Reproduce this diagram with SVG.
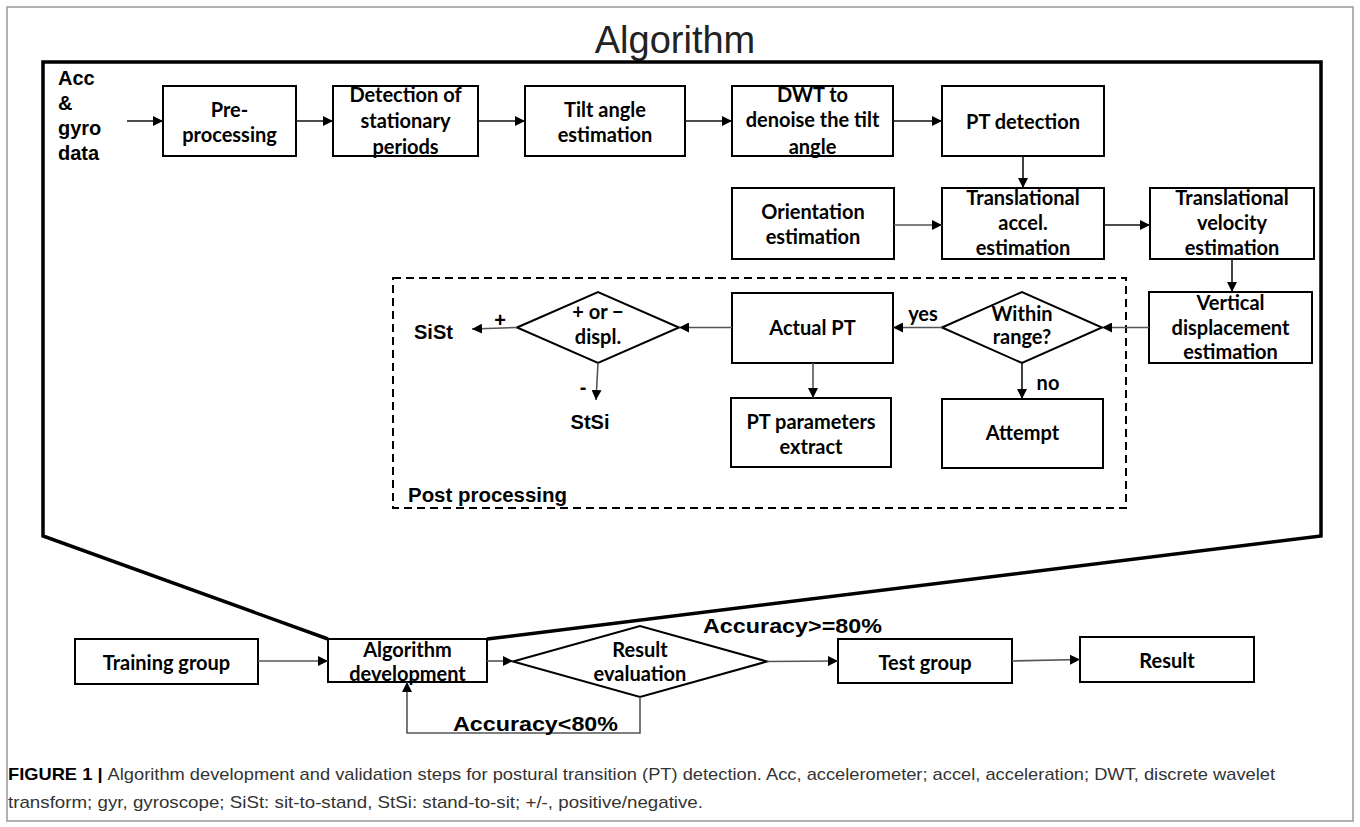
<svg xmlns="http://www.w3.org/2000/svg" width="1360" height="827" viewBox="0 0 1360 827">
<defs>
<marker id="ah" markerUnits="userSpaceOnUse" markerWidth="11" markerHeight="10" refX="10" refY="5" orient="auto">
<path d="M0,0 L10,5 L0,10 z" fill="#000"/>
</marker>
</defs>
<style>
.box{fill:#fff;stroke:#000;stroke-width:2}
.dia{fill:#fff;stroke:#000;stroke-width:2}
.frame{fill:none;stroke:#000;stroke-width:3.5;stroke-linejoin:miter}
.dash{fill:none;stroke:#000;stroke-width:2;stroke-dasharray:8 5}
.c{fill:none;stroke:#555;stroke-width:1.6;marker-end:url(#ah)}
.k{fill:none;stroke:#111;stroke-width:1.6;marker-end:url(#ah)}
.t{font-family:Lato,"Liberation Sans",sans-serif;font-weight:700;font-size:20px;fill:#000;text-anchor:middle}
.n{font-family:"Liberation Sans",Arial,sans-serif;font-weight:700;font-size:20px;fill:#000}
.cap{font-family:"Liberation Sans",Arial,sans-serif;font-size:17px;fill:#333}
</style>
<rect x="7" y="7" width="1346" height="814" fill="#fff" stroke="#999" stroke-width="1.5"/>
<text x="675" y="53" font-family="'Liberation Sans',Arial,sans-serif" font-size="38" fill="#222" text-anchor="middle">Algorithm</text>
<path class="frame" d="M328,639 L43,536 L43,62 L1321,62 L1321,536 L487,639"/>
<rect class="dash" x="393" y="278" width="733" height="230"/>
<text class="n" x="408" y="502" textLength="159" lengthAdjust="spacingAndGlyphs">Post processing</text>

<g id="input">
<text class="n" x="58" y="85" font-size="19">Acc</text>
<text class="n" x="58" y="110" font-size="19">&amp;</text>
<text class="n" x="58" y="135" font-size="19">gyro</text>
<text class="n" x="58" y="160" font-size="19">data</text>
</g>
<g id="preprocessing"><rect class="box" x="163" y="86" width="133" height="70"/>
<text class="t" x="229.5" y="117">Pre-</text><text class="t" x="229.5" y="142">processing</text></g>
<g id="stationary"><rect class="box" x="333" y="86" width="145" height="70"/>
<text class="t" x="405.5" y="102">Detection of</text><text class="t" x="405.5" y="128">stationary</text><text class="t" x="405.5" y="154">periods</text></g>
<g id="tilt"><rect class="box" x="525" y="86" width="160" height="70"/>
<text class="t" x="605" y="117">Tilt angle</text><text class="t" x="605" y="142">estimation</text></g>
<g id="dwt"><rect class="box" x="732" y="86" width="161" height="70"/>
<text class="t" x="812.5" y="102">DWT to</text><text class="t" x="812.5" y="127">denoise the tilt</text><text class="t" x="812.5" y="154">angle</text></g>
<g id="ptdetect"><rect class="box" x="942" y="86" width="162" height="70"/>
<text class="t" x="1023" y="129">PT detection</text></g>

<g id="orientation"><rect class="box" x="732" y="188" width="162" height="71"/>
<text class="t" x="813" y="219">Orientation</text><text class="t" x="813" y="244">estimation</text></g>
<g id="transaccel"><rect class="box" x="942" y="188" width="162" height="71"/>
<text class="t" x="1023" y="205">Translational</text><text class="t" x="1023" y="230">accel.</text><text class="t" x="1023" y="255">estimation</text></g>
<g id="transvel"><rect class="box" x="1150" y="188" width="164" height="71"/>
<text class="t" x="1232" y="205">Translational</text><text class="t" x="1232" y="230">velocity</text><text class="t" x="1232" y="255">estimation</text></g>

<g id="vertdisp"><rect class="box" x="1149" y="292" width="163" height="71"/>
<text class="t" x="1230.5" y="310">Vertical</text><text class="t" x="1230.5" y="335">displacement</text><text class="t" x="1230.5" y="359">estimation</text></g>
<g id="within"><polygon class="dia" points="942,327.5 1022,292 1102,327.5 1022,363"/>
<text class="t" x="1022" y="321" font-size="15.5">Within</text><text class="t" x="1022" y="344" font-size="15.5">range?</text></g>
<g id="actualpt"><rect class="box" x="732" y="293" width="161" height="70"/>
<text class="t" x="812.5" y="335" font-size="19">Actual PT</text></g>
<g id="displ"><polygon class="dia" points="517,327.5 598,292 679,327.5 598,363"/>
<text class="t" x="598" y="319" font-size="19">+ or −</text><text class="t" x="598" y="344" font-size="19">displ.</text></g>
<g id="sist"><text class="n" x="414" y="339">SiSt</text></g>
<g id="stsi"><text class="n" x="590" y="429" text-anchor="middle">StSi</text></g>
<g id="ptparams"><rect class="box" x="731" y="398" width="160" height="69"/>
<text class="t" x="811" y="429" font-size="19">PT parameters</text><text class="t" x="811" y="454" font-size="19">extract</text></g>
<g id="attempt"><rect class="box" x="942" y="399" width="161" height="69"/>
<text class="t" x="1022.5" y="440" font-size="19">Attempt</text></g>

<g id="training"><rect class="box" x="75" y="639" width="183" height="45"/>
<text class="t" x="166.5" y="670" font-size="22">Training group</text></g>
<g id="algodev"><rect class="box" x="328" y="639" width="159" height="43"/>
<text class="t" x="407.5" y="657">Algorithm</text><text class="t" x="407.5" y="681">development</text></g>
<g id="resulteval"><polygon class="dia" points="513,661.5 640,626 767,661.5 640,697"/>
<text class="t" x="640" y="657" font-size="19">Result</text><text class="t" x="640" y="681" font-size="19">evaluation</text></g>
<g id="testgroup"><rect class="box" x="838" y="639" width="174" height="44"/>
<text class="t" x="925" y="670" font-size="22">Test group</text></g>
<g id="result"><rect class="box" x="1080" y="637" width="174" height="45"/>
<text class="t" x="1167" y="668" font-size="22">Result</text></g>

<g id="connectors">
<line class="k" x1="127" y1="121" x2="163" y2="121"/>
<line class="k" x1="296" y1="121" x2="333" y2="121"/>
<line class="k" x1="478" y1="121" x2="525" y2="121"/>
<line class="k" x1="685" y1="121" x2="732" y2="121"/>
<line class="k" x1="893" y1="121" x2="942" y2="121"/>
<line class="k" x1="1023" y1="156" x2="1023" y2="188"/>
<line class="c" x1="894" y1="225" x2="942" y2="225"/>
<line class="k" x1="1104" y1="225" x2="1150" y2="225"/>
<line class="k" x1="1232" y1="259" x2="1232" y2="292"/>
<line class="c" x1="1149" y1="327.5" x2="1102" y2="327.5"/>
<line class="c" x1="942" y1="327.5" x2="893" y2="327.5"/>
<line class="c" x1="732" y1="327.5" x2="679" y2="327.5"/>
<line class="c" x1="517" y1="327.5" x2="472" y2="329"/>
<line class="c" x1="598" y1="363" x2="596" y2="400"/>
<line class="c" x1="813" y1="363" x2="813" y2="398"/>
<line class="k" x1="1022" y1="363" x2="1022" y2="399"/>
<line class="c" x1="258" y1="661" x2="328" y2="661"/>
<line class="c" x1="487" y1="661" x2="513" y2="661"/>
<line class="c" x1="767" y1="661.5" x2="838" y2="661"/>
<line class="c" x1="1012" y1="661" x2="1080" y2="659.5"/>
<polyline class="c" points="640,697 640,733 407,733 407,682"/>
<text class="t" x="923" y="321">yes</text>
<text class="t" x="1048" y="390">no</text>
<text class="n" x="500" y="327" text-anchor="middle">+</text>
<text class="n" x="583" y="394" text-anchor="middle">-</text>
<text class="n" x="703" y="633" font-size="24" textLength="179" lengthAdjust="spacingAndGlyphs">Accuracy&gt;=80%</text>
<text class="n" x="453" y="731" font-size="24" textLength="165" lengthAdjust="spacingAndGlyphs">Accuracy&lt;80%</text>
</g>

<text class="cap" x="8" y="780" textLength="1267" lengthAdjust="spacingAndGlyphs"><tspan font-weight="700" fill="#000">FIGURE 1 | </tspan>Algorithm development and validation steps for postural transition (PT) detection. Acc, accelerometer; accel, acceleration; DWT, discrete wavelet</text>
<text class="cap" x="8" y="808" textLength="695" lengthAdjust="spacingAndGlyphs">transform; gyr, gyroscope; SiSt: sit-to-stand, StSi: stand-to-sit; +/-, positive/negative.</text>
</svg>
